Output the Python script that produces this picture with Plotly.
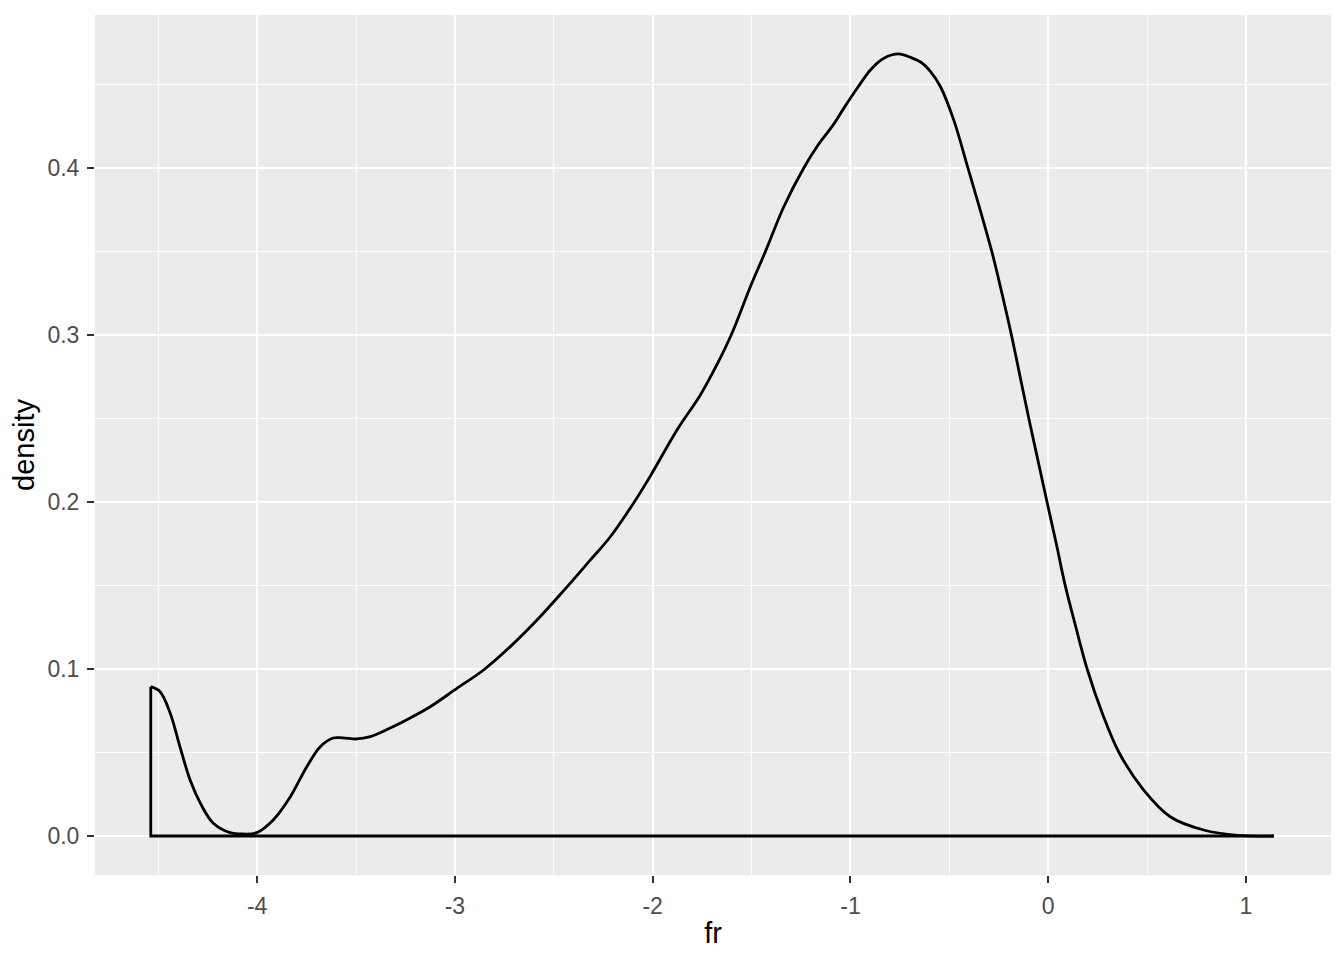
import plotly.graph_objects as go

# density estimate of fr
fr = [-4.538, -4.491, -4.440, -4.390, -4.339, -4.288, -4.223, -4.137, -4.071, -4.002,
      -3.919, -3.833, -3.749, -3.681, -3.615, -3.565, -3.496, -3.428, -3.327, -3.226,
      -3.125, -2.990, -2.855, -2.720, -2.585, -2.442, -2.315, -2.214, -2.093, -2.012,
      -1.877, -1.759, -1.674, -1.603, -1.506, -1.430, -1.337, -1.236, -1.168, -1.089,
      -1.034, -0.966, -0.899, -0.831, -0.757, -0.696, -0.640, -0.595, -0.544, -0.477,
      -0.406, -0.343, -0.283, -0.235, -0.186, -0.142, -0.098, -0.052, -0.006, 0.041,
      0.085, 0.140, 0.197, 0.275, 0.358, 0.483, 0.619, 0.786, 0.958, 1.141]
density = [0.0894, 0.0864, 0.0737, 0.0533, 0.0335, 0.0198, 0.0078, 0.0020, 0.0012, 0.0020,
           0.0096, 0.0234, 0.0415, 0.0535, 0.0587, 0.0587, 0.0581, 0.0595, 0.0647, 0.0707,
           0.0774, 0.0884, 0.0994, 0.1134, 0.1293, 0.1480, 0.1653, 0.1792, 0.2000, 0.2155,
           0.2431, 0.2641, 0.2825, 0.3000, 0.3289, 0.3500, 0.3768, 0.4000, 0.4130, 0.4255,
           0.4357, 0.4477, 0.4587, 0.4657, 0.4683, 0.4662, 0.4630, 0.4577, 0.4485, 0.4285,
           0.4000, 0.3745, 0.3490, 0.3255, 0.3000, 0.2750, 0.2500, 0.2250, 0.2000, 0.1750,
           0.1505, 0.1250, 0.1000, 0.0730, 0.0500, 0.0275, 0.0114, 0.0036, 0.0004, 0.0]

x_ticks = [-4, -3, -2, -1, 0, 1]
x_labels = ["-4", "-3", "-2", "-1", "0", "1"]
y_ticks = [0.0, 0.1, 0.2, 0.3, 0.4]
y_labels = ["0.0", "0.1", "0.2", "0.3", "0.4"]

font = "Liberation Sans, Arial, Helvetica, sans-serif"

fig = go.Figure()
# polygon outline: baseline and left edge
fig.add_trace(go.Scatter(x=[fr[-1], fr[0], fr[0]], y=[0, 0, density[0]],
                         mode="lines", line=dict(color="black", width=2.8),
                         hoverinfo="skip", showlegend=False))
fig.add_trace(go.Scatter(x=fr, y=density, mode="lines",
                         line=dict(color="black", width=2.8, shape="spline", smoothing=1.0),
                         showlegend=False))

axis_common = dict(
    showline=False, zeroline=False,
    showgrid=True, gridcolor="white", gridwidth=2.4,
    ticks="outside", ticklen=7, tickwidth=2.2, tickcolor="#333333",
    ticklabelstandoff=3,
    tickfont=dict(family=font, size=23, color="#4D4D4D"),
)

# page body has an 8px margin, so the figure is 8px smaller than the window
fig.update_layout(
    width=1336, height=952,
    margin=dict(l=87, r=13, t=7, b=85),
    paper_bgcolor="white", plot_bgcolor="#EBEBEB",
    font=dict(family=font),
    xaxis=dict(range=[-4.82, 1.43], tickvals=x_ticks, ticktext=x_labels,
               minor=dict(tickvals=[-4.5, -3.5, -2.5, -1.5, -0.5, 0.5], showgrid=True,
                          gridcolor="white", gridwidth=1.2, ticks=""),
               title=dict(text="fr", font=dict(family=font, size=29, color="black"), standoff=5),
               **axis_common),
    yaxis=dict(range=[-0.02335, 0.4916], tickvals=y_ticks, ticktext=y_labels,
               minor=dict(tickvals=[0.05, 0.15, 0.25, 0.35, 0.45], showgrid=True,
                          gridcolor="white", gridwidth=1.2, ticks=""),
               title=dict(text="density", font=dict(family=font, size=29, color="black"), standoff=4),
               **axis_common),
)

fig.write_html("out.html")
